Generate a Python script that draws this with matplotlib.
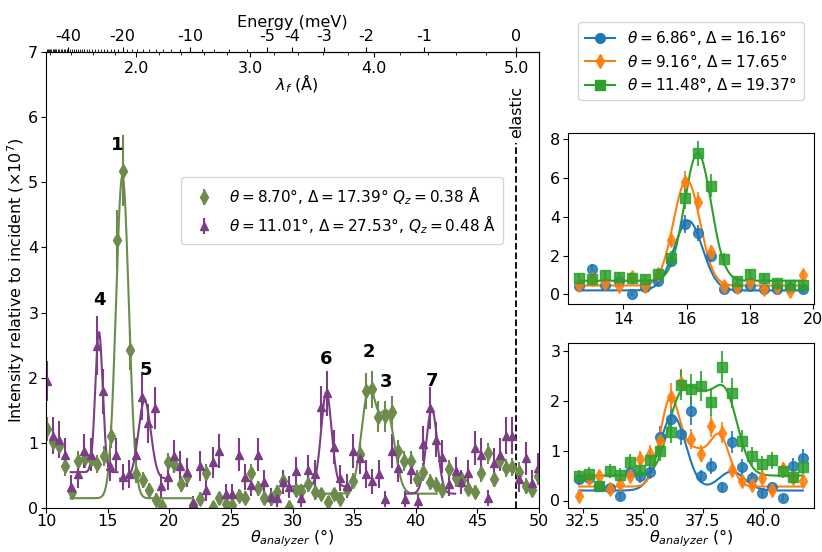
import numpy as np
import matplotlib
matplotlib.use("Agg")
import matplotlib.pyplot as plt
from matplotlib.lines import Line2D
from matplotlib.ticker import MultipleLocator, FixedLocator

# ---- main panel data (theta_analyzer, intensity x1e7) ----
g_x = [10.08, 10.60, 11.05, 11.58, 12.08, 12.60, 13.13, 13.65, 14.17, 14.70, 15.25, 15.75, 16.27, 16.80,
       17.32, 17.85, 18.37, 18.90, 19.42, 19.92, 20.40, 20.92, 21.45, 21.94, 22.48, 23.02, 23.51, 24.05,
       24.59, 25.08, 25.62, 26.14, 26.65, 27.17, 27.68, 28.22, 28.71, 29.25, 29.74, 30.28, 30.73, 31.27,
       31.81, 32.35, 32.84, 33.38, 33.89, 34.43, 34.92, 35.46, 35.94, 36.42, 36.97, 37.50, 38.05, 38.57,
       39.08, 39.60, 40.10, 40.60, 41.14, 41.62, 42.16, 42.70, 43.24, 43.76, 44.24, 44.78, 45.32, 45.86,
       46.32, 46.81, 47.35, 47.84, 48.38, 48.92, 49.46, 49.92]
g_y = [1.21, 1.02, 0.95, 0.64, 0.25, 0.72, 0.76, 0.75, 0.67, 0.80, 1.10, 4.12, 5.18, 2.42,
       0.52, 0.43, 0.28, 0.13, 0.03, 0.70, 0.68, 0.37, 0.49, 0.04, 0.14, 0.54, 0.02, 0.15,
       0.06, 0.05, 0.19, 0.16, 0.54, 0.30, 0.15, 0.16, 0.24, 0.42, 0.02, 0.28, 0.26, 0.37,
       0.24, 0.21, 0.09, 0.21, 0.14, 0.29, 0.41, 0.83, 1.80, 1.82, 1.40, 1.41, 1.47, 0.87,
       0.72, 0.72, 0.45, 0.55, 0.40, 0.36, 0.27, 0.60, 0.46, 0.43, 0.29, 0.25, 0.54, 0.84,
       0.45, 0.73, 0.61, 0.63, 0.56, 0.34, 0.28, 0.49]
g_err = [0.18, 0.16, 0.16, 0.15, 0.12, 0.15, 0.15, 0.15, 0.14, 0.15, 0.18, 0.45, 0.55, 0.30,
         0.13, 0.12, 0.11, 0.10, 0.08, 0.14, 0.14, 0.12, 0.13, 0.08, 0.10, 0.13, 0.08, 0.10,
         0.08, 0.08, 0.10, 0.10, 0.13, 0.11, 0.10, 0.10, 0.11, 0.12, 0.08, 0.11, 0.11, 0.12,
         0.11, 0.10, 0.09, 0.10, 0.10, 0.11, 0.12, 0.17, 0.28, 0.28, 0.24, 0.24, 0.25, 0.17,
         0.15, 0.15, 0.13, 0.14, 0.12, 0.12, 0.11, 0.14, 0.13, 0.13, 0.11, 0.11, 0.14, 0.16,
         0.13, 0.15, 0.14, 0.14, 0.14, 0.12, 0.11, 0.13]

p_x = [10.08, 10.55, 11.05, 11.57, 12.05, 12.57, 13.11, 13.62, 14.14, 14.65, 15.22, 15.70, 16.22, 16.76,
       17.27, 17.78, 18.30, 18.81, 19.32, 19.86, 20.40, 20.90, 21.45, 21.94, 22.48, 23.02, 23.51, 24.05,
       24.59, 25.08, 25.62, 26.14, 26.65, 27.17, 27.68, 28.22, 28.71, 29.25, 29.74, 30.25, 30.73, 31.27,
       31.81, 32.30, 32.78, 33.38, 33.89, 34.43, 34.92, 35.46, 35.94, 36.46, 37.00, 37.49, 38.05, 38.57,
       39.10, 39.62, 40.15, 40.60, 41.14, 41.62, 42.16, 42.70, 43.24, 43.70, 44.24, 44.78, 45.32, 45.86,
       46.32, 46.81, 47.35, 47.84, 48.38, 48.92, 49.46, 49.92]
p_y = [1.95, 1.11, 1.05, 0.82, 0.33, 0.52, 0.88, 0.82, 2.49, 1.79, 0.64, 0.82, 0.47, 0.52,
       0.82, 1.70, 1.30, 1.53, 0.34, 0.47, 0.80, 0.65, 0.55, 0.08, 0.65, 0.27, 0.70, 0.88,
       0.22, 0.22, 0.82, 0.47, 0.36, 0.82, 0.40, 0.17, 0.16, 0.40, 0.32, 0.57, 0.15, 0.59,
       0.52, 1.55, 1.76, 0.94, 0.46, 0.34, 0.87, 0.77, 0.52, 0.41, 0.52, 0.14, 0.88, 0.62,
       0.14, 0.59, 0.11, 0.99, 1.54, 1.05, 0.79, 0.37, 0.57, 0.40, 0.53, 0.92, 0.82, 0.15,
       0.69, 0.82, 1.11, 1.11, 0.44, 0.76, 0.39, 0.62]
p_err = [0.30, 0.28, 0.28, 0.25, 0.18, 0.22, 0.26, 0.25, 0.45, 0.35, 0.22, 0.25, 0.20, 0.21,
         0.25, 0.35, 0.30, 0.32, 0.18, 0.20, 0.25, 0.23, 0.22, 0.10, 0.23, 0.17, 0.24, 0.26,
         0.15, 0.15, 0.25, 0.20, 0.18, 0.25, 0.19, 0.14, 0.14, 0.19, 0.17, 0.22, 0.13, 0.22,
         0.21, 0.32, 0.35, 0.26, 0.20, 0.18, 0.26, 0.25, 0.21, 0.19, 0.21, 0.12, 0.26, 0.22,
         0.12, 0.22, 0.11, 0.27, 0.32, 0.27, 0.25, 0.18, 0.22, 0.19, 0.21, 0.26, 0.25, 0.12,
         0.23, 0.25, 0.28, 0.28, 0.19, 0.25, 0.19, 0.23]

# fitted gaussian models: (start, stop, background, [(centre, amplitude, sigma), ...])
g_fits = [(12.0, 21.9, 0.15, [(16.2, 4.95, 0.52)]),
          (31.7, 41.7, 0.22, [(36.2, 1.58, 0.6), (37.7, 1.2, 0.6)])]
p_fits = [(12.0, 15.8, 0.55, [(14.3, 2.15, 0.3)]),
          (16.0, 20.0, 0.45, [(18.0, 1.2, 0.5)]),
          (30.0, 34.6, 0.33, [(32.75, 1.45, 0.42)]),
          (39.2, 43.2, 0.22, [(41.3, 1.3, 0.45)])]

peak_labels = ["1", "2", "3", "4", "5", "6", "7"]
peak_label_x = [15.8, 36.2, 37.6, 14.35, 18.1, 32.7, 41.3]
peak_label_y = [5.57, 2.39, 1.94, 3.2, 2.12, 2.28, 1.95]

energy_ticks = [-40, -20, -10, -5, -4, -3, -2, -1, 0]
lam_ticks = [2.0, 3.0, 4.0, 5.0]

# ---- right panels ----
t_x = [12.60, 13.02, 13.43, 13.85, 14.27, 14.68, 15.10, 15.51, 15.93, 16.35, 16.76, 17.18, 17.59,
       18.01, 18.43, 18.84, 19.26, 19.67]
t_blue = [0.43, 1.30, 0.46, 0.68, 0.00, 0.40, 0.68, 1.71, 3.63, 3.17, 1.97, 0.29, 0.34, 0.43, 0.29,
          0.28, 0.30, 0.26]
t_orange = [0.46, 0.80, 0.60, 0.43, 0.89, 0.43, 1.06, 2.83, 5.82, 4.79, 2.19, 0.43, 0.39, 0.63, 0.26,
            0.40, 0.17, 0.98]
t_green = [0.86, 0.77, 0.98, 0.91, 0.84, 0.80, 1.03, 1.88, 4.97, 7.28, 5.60, 1.80, 0.68, 1.03, 0.86,
           0.60, 0.46, 0.46]
t_blue_err = [0.15, 0.25, 0.15, 0.18, 0.10, 0.15, 0.18, 0.30, 0.45, 0.40, 0.30, 0.12, 0.13, 0.15, 0.12,
              0.12, 0.12, 0.12]
t_orange_err = [0.18, 0.25, 0.20, 0.18, 0.25, 0.18, 0.28, 0.40, 0.55, 0.50, 0.35, 0.18, 0.17, 0.22, 0.15,
                0.18, 0.14, 0.28]
t_green_err = [0.22, 0.22, 0.25, 0.24, 0.23, 0.22, 0.26, 0.35, 0.55, 0.65, 0.60, 0.35, 0.21, 0.26, 0.23,
               0.20, 0.18, 0.18]

b_x = [32.36, 32.78, 33.20, 33.63, 34.05, 34.47, 34.89, 35.32, 35.74, 36.16, 36.59, 37.01, 37.43,
       37.85, 38.28, 38.70, 39.12, 39.55, 39.97, 40.39, 40.82, 41.24, 41.66]
b_blue = [0.44, 0.45, 0.30, 0.25, 0.10, 0.58, 0.49, 0.58, 1.28, 1.64, 1.33, 1.80, 0.49, 0.70, 0.27,
          1.18, 0.68, 0.45, 0.16, 0.27, 0.06, 0.70, 0.86]
b_orange = [0.10, 0.45, 0.50, 0.24, 0.34, 0.50, 0.83, 0.94, 1.20, 2.08, 2.35, 1.23, 0.94, 1.49, 1.36,
            0.62, 0.39, 0.32, 0.45, 0.21, 0.64, 0.45, 0.39]
b_green = [0.49, 0.54, 0.29, 0.60, 0.52, 0.78, 0.62, 0.81, 0.99, 1.38, 2.31, 2.24, 2.29, 1.98, 2.68,
           2.16, 1.20, 0.89, 0.73, 0.81, 0.60, 0.47, 0.68]
b_blue_err = [0.12, 0.12, 0.10, 0.10, 0.08, 0.14, 0.13, 0.14, 0.22, 0.25, 0.22, 0.28, 0.13, 0.16, 0.10,
              0.22, 0.16, 0.13, 0.08, 0.10, 0.06, 0.16, 0.18]
b_orange_err = [0.08, 0.12, 0.12, 0.10, 0.11, 0.13, 0.16, 0.17, 0.20, 0.27, 0.28, 0.20, 0.17, 0.22, 0.21,
                0.14, 0.12, 0.11, 0.12, 0.09, 0.14, 0.12, 0.12]
b_green_err = [0.12, 0.13, 0.10, 0.14, 0.13, 0.16, 0.14, 0.17, 0.19, 0.23, 0.30, 0.30, 0.30, 0.28, 0.33,
               0.30, 0.22, 0.18, 0.16, 0.17, 0.14, 0.12, 0.15]

# fits for right panels: (background, [(centre, amplitude, sigma), ...])
t_fits = [(0.2, [(16.05, 3.6, 0.45)]),
          (0.45, [(16.0, 5.45, 0.42)]),
          (0.7, [(16.35, 6.6, 0.42)])]
b_fits = [(0.2, [(36.25, 1.5, 0.55), (38.7, 0.38, 0.55)]),
          (0.28, [(36.15, 1.75, 0.42), (37.2, 0.65, 0.45), (38.2, 1.0, 0.42)]),
          (0.5, [(36.5, 1.35, 0.5), (37.35, 1.15, 0.5), (38.4, 1.65, 0.55)])]

right_labels = [r"$\theta=6.86°$, $\Delta=16.16°$",
                r"$\theta=9.16°$, $\Delta=17.65°$",
                r"$\theta=11.48°$, $\Delta=19.37°$"]


def model(x, bg, peaks):
    y = np.full_like(x, bg)
    for c, a, s in peaks:
        y = y + a * np.exp(-(x - c) ** 2 / (2 * s ** 2))
    return y


GREEN = "#6d8b4c"
PURPLE = "#7b3d85"
FS = 11.5

fig = plt.figure(figsize=(8.22, 5.52), dpi=100)
ax = fig.add_axes([46 / 822, 44 / 552, 493 / 822, 456 / 552])

ax.errorbar(g_x, g_y, yerr=g_err, fmt="d", color=GREEN, ms=7, elinewidth=1.5, capsize=0,
            label=r"$\theta=8.70°$, $\Delta=17.39°$ $Q_z=0.38$ Å")
ax.errorbar(p_x, p_y, yerr=p_err, fmt="^", color=PURPLE, ms=6, elinewidth=1.5, capsize=0,
            label=r"$\theta=11.01°$, $\Delta=27.53°$, $Q_z=0.48$ Å")
for x0, x1, bg, peaks in g_fits:
    xx = np.linspace(x0, x1, 300)
    ax.plot(xx, model(xx, bg, peaks), color=GREEN, lw=1.5)
for x0, x1, bg, peaks in p_fits:
    xx = np.linspace(x0, x1, 300)
    ax.plot(xx, model(xx, bg, peaks), color=PURPLE, lw=1.5)

for t, lx, ly in zip(peak_labels, peak_label_x, peak_label_y):
    ax.text(lx, ly, t, fontsize=13, fontweight="bold", ha="center", va="center")

# elastic line: lambda_f = lambda_i = 5.0 A, graphite d = 3.355 A
two_d = 6.71
lam_i = 5.0
theta_el = np.degrees(np.arcsin(lam_i / two_d))
ax.plot([theta_el, theta_el], [0, 5.6], color="black", ls="--", lw=1.3)
ax.text(theta_el, 5.68, "elastic", rotation=90, ha="center", va="bottom", fontsize=FS)

ax.set_xlim(10, 50)
ax.set_ylim(0, 7)
ax.set_xlabel(r"$\theta_{analyzer}$ (°)", fontsize=FS, labelpad=-1)
ax.set_ylabel(r"Intensity relative to incident ($\times 10^7$)", fontsize=FS, labelpad=1)
ax.tick_params(labelsize=FS, pad=2)
ax.tick_params(axis="x", pad=1)
ax.legend(loc="center", bbox_to_anchor=(0.601, 0.653), fontsize=11, handletextpad=0.6,
          borderpad=0.5, labelspacing=0.4)

E_i = 81.81 / lam_i ** 2


def th2lam(th):
    return two_d * np.sin(np.radians(th))


def lam2th(lam):
    with np.errstate(invalid="ignore"):
        return np.degrees(np.arcsin(np.clip(lam / two_d, -1, 1)))


def th2E(th):
    lam = th2lam(th)
    with np.errstate(divide="ignore", invalid="ignore"):
        return E_i - 81.81 / lam ** 2


def E2th(E):
    with np.errstate(divide="ignore", invalid="ignore"):
        ef = np.clip(E_i - np.asarray(E, dtype=float), 1e-6, None)
        return lam2th(np.sqrt(81.81 / ef))


secE = ax.secondary_xaxis("top", functions=(th2E, E2th))
secE.xaxis.set_major_locator(FixedLocator(energy_ticks))
secE.xaxis.set_minor_locator(MultipleLocator(1))
secE.set_xticklabels([str(e) for e in energy_ticks])
secE.tick_params(labelsize=FS, pad=2)
secE.set_xlabel("Energy (meV)", fontsize=FS, labelpad=2)

secL = ax.secondary_xaxis("top", functions=(th2lam, lam2th))
secL.xaxis.set_major_locator(FixedLocator(lam_ticks))
secL.xaxis.set_minor_locator(MultipleLocator(0.2))
secL.set_xticklabels(["%.1f" % l for l in lam_ticks])
secL.tick_params(which="both", direction="in", labelsize=FS, pad=-17)
secL.spines["top"].set_visible(False)
ax.text(0.509, 0.931, r"$\lambda_f$ (Å)", transform=ax.transAxes, ha="center", va="center",
        fontsize=FS)

# ---- right panels ----
colors = ["C0", "C1", "C2"]
markers = ["o", "d", "s"]
msizes = [7, 7, 7]

ax_t = fig.add_axes([568 / 822, (552 - 304) / 552, 246 / 822, 171 / 552])
ax_b = fig.add_axes([568 / 822, 44 / 552, 246 / 822, 165 / 552])

for ys, es, fit, c, m, ms in zip([t_blue, t_orange, t_green], [t_blue_err, t_orange_err, t_green_err],
                                 t_fits, colors, markers, msizes):
    ax_t.errorbar(t_x, ys, yerr=es, fmt=m, color=c, ms=ms, elinewidth=1.5, capsize=0, alpha=0.85)
    xx = np.linspace(t_x[0], t_x[-1], 300)
    ax_t.plot(xx, model(xx, *fit), color=c, lw=1.5)

for ys, es, fit, c, m, ms in zip([b_blue, b_orange, b_green], [b_blue_err, b_orange_err, b_green_err],
                                 b_fits, colors, markers, msizes):
    ax_b.errorbar(b_x, ys, yerr=es, fmt=m, color=c, ms=ms, elinewidth=1.5, capsize=0, alpha=0.85)
    xx = np.linspace(b_x[0], b_x[-1], 300)
    ax_b.plot(xx, model(xx, *fit), color=c, lw=1.5)

ax_t.set_xticks([14, 16, 18, 20])
ax_t.set_yticks([0, 2, 4, 6, 8])
ax_b.set_xticks([32.5, 35.0, 37.5, 40.0])
ax_b.set_yticks([0, 1, 2, 3])
for a in (ax_t, ax_b):
    a.tick_params(labelsize=FS, pad=2)
ax_b.tick_params(axis="x", pad=1)
ax_b.set_xlabel(r"$\theta_{analyzer}$ (°)", fontsize=FS, labelpad=-1)

handles = [Line2D([], [], color=c, marker=m, ms=7) for c, m in zip(colors, markers)]
ax_t.legend(handles, right_labels, loc="lower center", bbox_to_anchor=(0.5, 1.146), fontsize=11,
            handlelength=2.0, borderpad=0.4, labelspacing=0.3)

fig.savefig("out.png", dpi=100)
